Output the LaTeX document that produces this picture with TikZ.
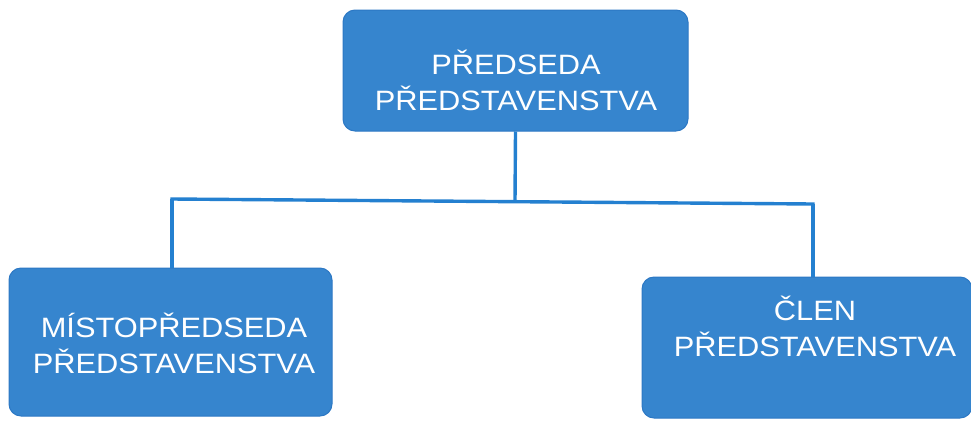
\documentclass[tikz,border=0pt]{standalone}
\usepackage{fontspec}
\setmainfont{Liberation Sans}
\newfontfamily\boxfont[FakeStretch=1.1]{Liberation Sans}
\definecolor{boxblue}{RGB}{54,133,206}
\definecolor{edgeblue}{RGB}{44,120,196}
\definecolor{lineblue}{RGB}{36,128,208}
\begin{document}
\begin{tikzpicture}[x=1pt,y=-1pt,
  orgbox/.style={draw=edgeblue,fill=boxblue,rounded corners=12pt,line width=1pt,inner sep=0pt},
  orgtext/.style={text=white,align=center,font=\boxfont\fontsize{28}{35.5}\selectfont,inner sep=0pt,anchor=base},
  conn/.style={draw=lineblue,line width=3.4pt}]
\useasboundingbox (0,0) rectangle (971,421);
\node[orgbox,minimum width=345pt,minimum height=121pt] (tb) at (515.5,70.5) {};
\node[orgbox,minimum width=323pt,minimum height=148pt] (lb) at (170.5,342) {};
\node[orgbox,minimum width=330pt,minimum height=141pt] (rb) at (807,347.5) {};
\node[orgtext] (tt) at (516,110) {PŘEDSEDA\\PŘEDSTAVENSTVA};
\node[orgtext] (lt) at (174,373) {MÍSTOPŘEDSEDA\\PŘEDSTAVENSTVA};
\node[orgtext] (rt) at (815,356) {ČLEN\\PŘEDSTAVENSTVA};
\coordinate (j) at (515,201);
\coordinate (jl) at (172,199);
\coordinate (jr) at (813,204);
\draw[conn] (tb.south) -- (j);
\draw[conn,line cap=rect] (jl) -- (jr);
\draw[conn] (jl) -- (jl |- lb.north);
\draw[conn] (jr) -- (jr |- rb.north);
\end{tikzpicture}
\end{document}
